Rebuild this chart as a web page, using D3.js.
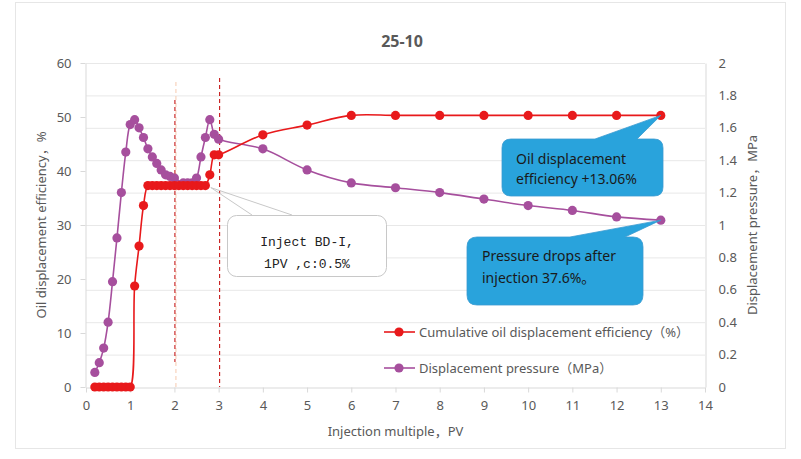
<!DOCTYPE html>
<html><head><meta charset="utf-8">
<script src="https://cdn.jsdelivr.net/npm/d3@7"></script>
<style>body{margin:0;background:#fff}svg{display:block}</style>
</head><body><svg id="c" width="801" height="459"></svg>
<script>
const title = "25-10";
const effX = [0.2,0.3,0.4,0.5,0.6,0.7,0.8,0.9,1.0,1.1,1.2,1.3,1.4,1.5,1.6,1.7,1.8,1.9,2.0,2.1,2.2,2.3,2.4,2.5,2.6,2.7,2.8,2.9,3.0,4,5,6,7,8,9,10,11,12,13];
const effY = [0,0,0,0,0,0,0,0,0,18.7,26.1,33.6,37.3,37.3,37.3,37.3,37.3,37.3,37.3,37.3,37.3,37.3,37.3,37.3,37.3,37.3,39.3,43.0,43.0,46.7,48.5,50.3,50.3,50.3,50.3,50.3,50.3,50.3,50.3];
const presX = [0.2,0.3,0.4,0.5,0.6,0.7,0.8,0.9,1.0,1.1,1.2,1.3,1.4,1.5,1.6,1.7,1.8,1.9,2.0,2.2,2.3,2.4,2.5,2.6,2.7,2.8,2.9,3.0,4,5,6,7,8,9,10,11,12,13];
const presY = [0.09,0.15,0.24,0.40,0.65,0.92,1.20,1.45,1.62,1.65,1.60,1.54,1.47,1.42,1.38,1.34,1.31,1.30,1.29,1.26,1.26,1.26,1.29,1.42,1.54,1.65,1.56,1.53,1.47,1.34,1.26,1.23,1.20,1.16,1.12,1.09,1.05,1.03];
const xTicks = [0,1,2,3,4,5,6,7,8,9,10,11,12,13,14];
const yLTicks = [0,10,20,30,40,50,60];
const yRTicks = [0,0.2,0.4,0.6,0.8,1,1.2,1.4,1.6,1.8,2];
const seriesNames = ["Cumulative oil displacement efficiency（%）","Displacement pressure（MPa）"];
const xLabel = "Injection multiple，PV";
const yLLabel = "Oil displacement efficiency，%";
const yRLabel = "Displacement pressure，MPa";
const note1 = ["Inject BD-I,","1PV ,c:0.5%"];
const note2 = ["Oil displacement","efficiency +13.06%"];
const note3 = ["Pressure drops after","injection 37.6%。"];
const markLines = [2, 3];

const RED = "#E8191B", PUR = "#A64F9D", TXT = "#595959", BLUE = "#29A3DC";
const FONT = "'Noto Sans','Open Sans','Noto Sans CJK SC',sans-serif";
const svg = d3.select("#c").style("font-family", FONT);

svg.append("rect").attr("x",15.5).attr("y",2.5).attr("width",770).attr("height",446)
  .attr("fill","#fff").attr("stroke","#E6E6E6");

const x = d3.scaleLinear([0,14],[86,705]);
const yL = d3.scaleLinear([0,60],[387,63]);
const yR = d3.scaleLinear([0,2],[387,63]);

// gridlines
svg.append("g").selectAll("line").data(yRTicks.slice(1)).join("line")
  .attr("x1",x(0)).attr("x2",x(14)).attr("y1",d=>yR(d)+0.5).attr("y2",d=>yR(d)+0.5)
  .attr("stroke","#E8E8E8");

svg.append("text").attr("x",402).attr("y",47).attr("text-anchor","middle")
  .attr("font-size",16).attr("font-weight","bold").attr("fill",TXT).text(title);

function styleAxis(g){
  g.selectAll(".domain").attr("stroke","#D9D9D9");
  g.selectAll(".tick line").attr("stroke","#D9D9D9");
  g.selectAll("text").attr("fill",TXT).attr("font-size",13).attr("font-family",FONT);
}
svg.append("g").attr("transform","translate(0,387.5)")
  .call(d3.axisBottom(x).tickValues(xTicks).tickSize(5).tickPadding(8).tickSizeOuter(0)).call(styleAxis);
svg.append("g").attr("transform","translate(85.5,0)")
  .call(d3.axisLeft(yL).tickValues(yLTicks).tickSize(5).tickPadding(9).tickSizeOuter(0)).call(styleAxis);
svg.append("g").attr("transform","translate(705.5,0)")
  .call(d3.axisRight(yR).tickValues(yRTicks).tickSize(0).tickPadding(13).tickFormat(d3.format("~g"))).call(styleAxis);

svg.append("text").attr("x",x(7)).attr("y",436).attr("text-anchor","middle")
  .attr("font-size",13).attr("fill",TXT).text(xLabel);
svg.append("text").attr("transform","translate(46,225) rotate(-90)").attr("text-anchor","middle")
  .attr("font-size",13).attr("fill",TXT).text(yLLabel);
svg.append("text").attr("transform","translate(757,225) rotate(-90)").attr("text-anchor","middle")
  .attr("font-size",13).attr("fill",TXT).text(yRLabel);

// vertical dashed marker lines
svg.append("line").attr("x1",x(markLines[0])+1.5).attr("x2",x(markLines[0])+1.5)
  .attr("y1",82).attr("y2",387).attr("stroke","#F6C9AE").attr("stroke-dasharray","4,3");
svg.append("line").attr("x1",x(markLines[0])+0.5).attr("x2",x(markLines[0])+0.5)
  .attr("y1",100).attr("y2",362).attr("stroke","#C00000").attr("stroke-dasharray","4,3");
svg.append("line").attr("x1",x(markLines[1])+1).attr("x2",x(markLines[1])+1)
  .attr("y1",78).attr("y2",387).attr("stroke","#C00000").attr("stroke-dasharray","4,3");

const effData = effX.map((v,i)=>[v,effY[i]]);
const presData = presX.map((v,i)=>[v,presY[i]]);
const lineL = d3.line().x(d=>x(d[0])).y(d=>yL(d[1])).curve(d3.curveCatmullRom.alpha(0.5));
const lineR = d3.line().x(d=>x(d[0])).y(d=>yR(d[1])).curve(d3.curveCatmullRom.alpha(0.5));

svg.append("path").attr("d",lineR(presData)).attr("fill","none").attr("stroke",PUR).attr("stroke-width",1.6);
svg.append("g").selectAll("circle").data(presData).join("circle")
  .attr("cx",d=>x(d[0])).attr("cy",d=>yR(d[1])).attr("r",4.6).attr("fill",PUR);
svg.append("path").attr("d",lineL(effData)).attr("fill","none").attr("stroke",RED).attr("stroke-width",1.6);
svg.append("g").selectAll("circle").data(effData).join("circle")
  .attr("cx",d=>x(d[0])).attr("cy",d=>yL(d[1])).attr("r",4.6).attr("fill",RED);

// white callout
const tip1 = [x(2.8)+1, yL(37.3)+2];
svg.append("path").attr("d",`M${tip1[0]},${tip1[1]} L252,215 M${tip1[0]},${tip1[1]} L292,215`)
  .attr("stroke","#C8C8C8").attr("fill","none");
svg.append("rect").attr("x",227.5).attr("y",215.5).attr("width",159).attr("height",61).attr("rx",9)
  .attr("fill","#fff").attr("stroke","#C8C8C8");
note1.forEach((t,i)=>svg.append("text").attr("x",307).attr("y",246+i*22).attr("text-anchor","middle")
  .attr("font-family","'Liberation Mono','DejaVu Sans Mono',monospace").attr("font-size",13).attr("fill","#222").text(t));

function bubble(x0,y0,x1,y1,r,bx0,bx1,tip){
  return `M${x0+r},${y0} L${bx0},${y0} L${tip[0]},${tip[1]} L${bx1},${y0} L${x1-r},${y0} Q${x1},${y0} ${x1},${y0+r}`+
    ` L${x1},${y1-r} Q${x1},${y1} ${x1-r},${y1} L${x0+r},${y1} Q${x0},${y1} ${x0},${y1-r} L${x0},${y0+r} Q${x0},${y0} ${x0+r},${y0} Z`;
}
const tip2 = [x(13), yL(effY[effY.length-1])];
svg.append("path").attr("d",bubble(502,139,663,196,9,595,637,tip2)).attr("fill",BLUE).attr("stroke","#3A9BD0").attr("stroke-width",0.8);
note2.forEach((t,i)=>svg.append("text").attr("x",516).attr("y",164+i*20)
  .attr("font-size",14).attr("fill","#1a1a1a").text(t));
const tip3 = [x(13), yR(presY[presY.length-1])];
svg.append("path").attr("d",bubble(467,237,643,305,10,570,625,tip3)).attr("fill",BLUE).attr("stroke","#3A9BD0").attr("stroke-width",0.8);
note3.forEach((t,i)=>svg.append("text").attr("x",482).attr("y",261+i*22)
  .attr("font-size",14).attr("fill","#1a1a1a").text(t));

// legend
const leg = svg.append("g");
[[RED,332],[PUR,368]].forEach(([c,yy],i)=>{
  leg.append("line").attr("x1",384).attr("x2",415).attr("y1",yy).attr("y2",yy).attr("stroke",c).attr("stroke-width",1.6);
  leg.append("circle").attr("cx",399).attr("cy",yy).attr("r",4.6).attr("fill",c);
  leg.append("text").attr("x",419).attr("y",yy).attr("dy","0.35em").attr("font-size",13).attr("fill",TXT).text(seriesNames[i]);
});
</script></body></html>
